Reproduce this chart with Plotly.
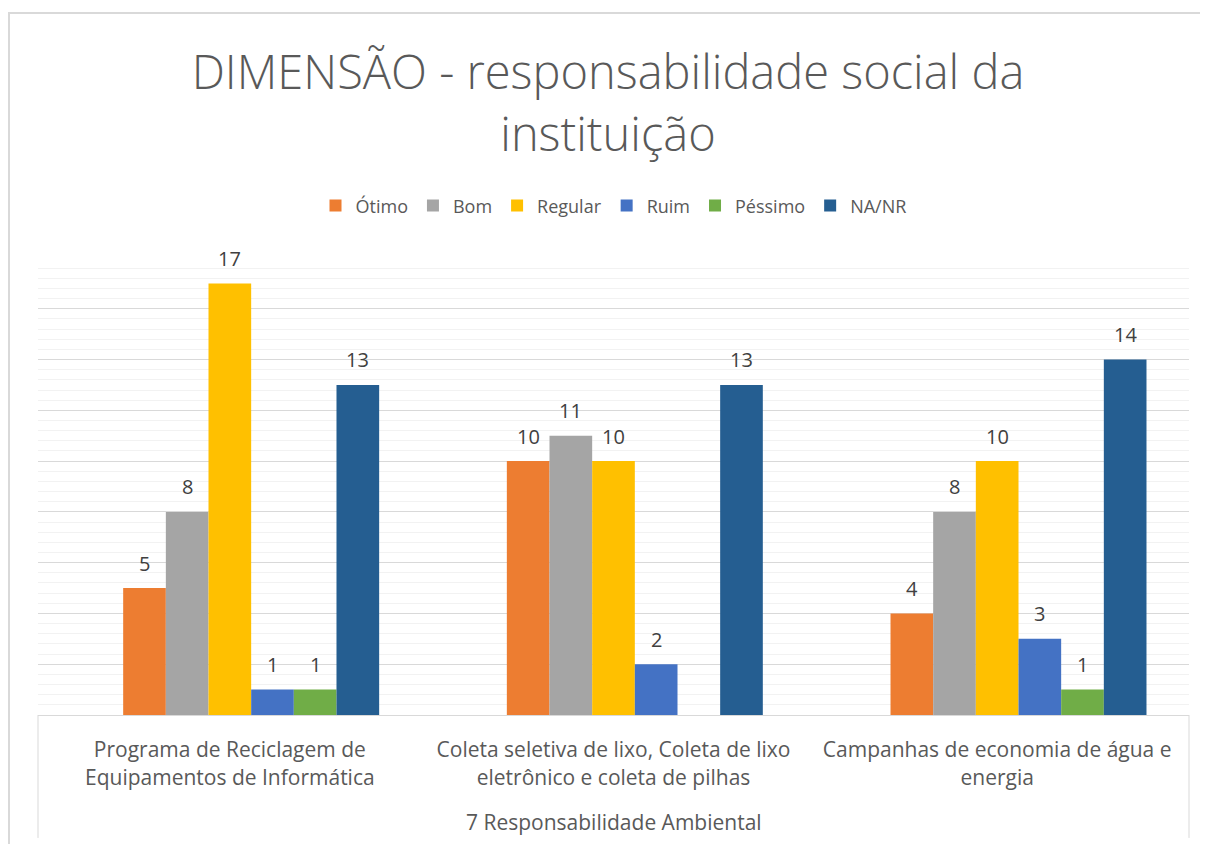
import plotly.graph_objects as go

categories = ["Programa de Reciclagem de<br>Equipamentos de Informática",
              "Coleta seletiva de lixo, Coleta de lixo<br>eletrônico e coleta de pilhas",
              "Campanhas de economia de água e<br>energia"]
group_label = "7 Responsabilidade Ambiental"
series_names = ["Ótimo", "Bom", "Regular", "Ruim", "Péssimo", "NA/NR"]
otimo = [5, 10, 4]
bom = [8, 11, 8]
regular = [17, 10, 10]
ruim = [1, 2, 3]
pessimo = [1, None, 1]
nanr = [13, 13, 14]
colors = ["#ED7D31", "#A5A5A5", "#FFC000", "#4472C4", "#70AD47", "#255E91"]

FONT = "Open Sans"
BAR_W = 0.1112
START = -0.278
W, H = 1200, 836
ML, MR, MT, MB = 30, 19, 250, 129
CAT_PX = (W - ML - MR) / len(categories)

fig = go.Figure()
all_series = [otimo, bom, regular, ruim, pessimo, nanr]
for i, (name, vals, col) in enumerate(zip(series_names, all_series, colors)):
    fig.add_trace(go.Bar(
        name=name, x=categories, y=vals, marker=dict(color=col, line=dict(width=0)),
        width=BAR_W, offset=START + i * BAR_W,
    ))
    # data labels
    for cat, v in zip(categories, vals):
        if v is None:
            continue
        fig.add_annotation(x=cat, y=v, text=str(v), showarrow=False,
                           xshift=(START + (i + 0.5) * BAR_W) * CAT_PX, yshift=25,
                           xanchor="center", yanchor="middle",
                           font=dict(family=FONT, size=20, color="#404040"))

fig.update_layout(
    width=W, height=H,
    margin=dict(l=ML, r=MR, t=MT, b=MB),
    paper_bgcolor="white", plot_bgcolor="white",
    barmode="overlay",
    title=dict(text="DIMENSÃO - responsabilidade social da<br>instituição",
               x=0.5, xanchor="center", y=0.9026, yanchor="middle",
               font=dict(family=FONT, size=47, color="#595959", weight=300)),
    legend=dict(orientation="h", x=0.5, xanchor="center", y=1.114, yanchor="middle",
                font=dict(family=FONT, size=18, color="#595959"), itemwidth=30,
                traceorder="normal"),
    showlegend=True,
    xaxis=dict(showline=True, linecolor="#d9d9d9", linewidth=1, ticks="",
               tickfont=dict(family=FONT, size=21, color="#595959"),
               ticklabelstandoff=16),
    yaxis=dict(range=[0, 18], dtick=2, showticklabels=False, showgrid=True,
               gridcolor="#d9d9d9", gridwidth=1, zeroline=False, showline=False,
               minor=dict(dtick=0.4, showgrid=True, gridcolor="#f2f2f2", gridwidth=1)),
)

# box lines of the category axis and chart border
fig.add_shape(type="line", xref="paper", yref="paper", x0=0, x1=0, y0=0, y1=-0.269,
              line=dict(color="#d9d9d9", width=1))
fig.add_shape(type="line", xref="paper", yref="paper", x0=1, x1=1, y0=0, y1=-0.269,
              line=dict(color="#d9d9d9", width=1))
fig.add_shape(type="rect", xref="paper", yref="paper", x0=-0.0252, x1=1.05, y0=-0.4, y1=1.536,
              line=dict(color="#d9d9d9", width=2), layer="below")

fig.add_annotation(text=group_label, xref="paper", yref="paper", x=0.5, y=-0.234,
                   showarrow=False, yanchor="middle",
                   font=dict(family=FONT, size=21, color="#595959"))

fig.write_html("out.html")
